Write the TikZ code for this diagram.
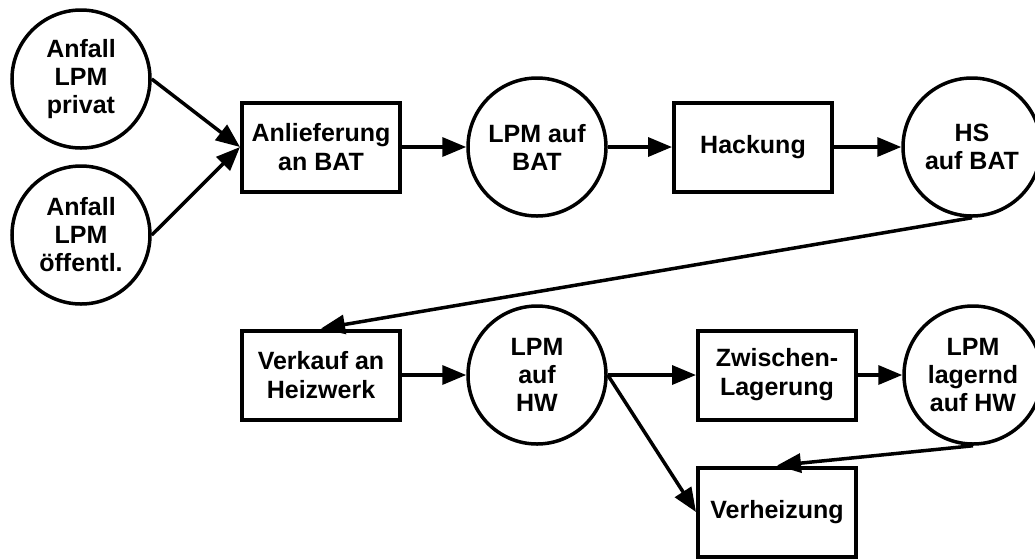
\documentclass[tikz,border=0pt]{standalone}
\usepackage{fontspec}
\setmainfont{Liberation Sans}
\usetikzlibrary{positioning, arrows.meta}

\begin{document}
\begin{tikzpicture}[
    ->, >={Triangle[length=24pt, width=19pt]}, line width=3.5pt, node distance=216pt, on grid,
    stock/.style={circle, draw, line width=3.5pt, minimum size=138pt, inner sep=0pt, align=center,
        font=\fontsize{25}{28}\selectfont\bfseries},
    proc/.style={rectangle, draw, line width=4pt, minimum width=158pt, minimum height=89pt,
        align=center, font=\fontsize{25}{29}\selectfont\bfseries}
]
    \useasboundingbox (0pt,0pt) rectangle (1035pt,-558pt);
    % upper row
    \node[proc] (anlief) at (321pt,-147pt) {Anlieferung\\an BAT};
    \node[stock] (privat) [above left=68pt and 240pt of anlief] {Anfall\\LPM\\privat};
    \node[stock] (oeff) [below left=88pt and 240pt of anlief] {Anfall\\LPM\\öffentl.};
    \node[stock] (lpmbat) [right=of anlief] {LPM auf\\BAT};
    \node[proc] (hack) [right=of lpmbat] {Hackung};
    \node[stock] (hsbat) [right=219pt of hack] {HS\\auf BAT};
    % lower row
    \node[proc] (verkauf) [below=228pt of anlief] {Verkauf an\\Heizwerk};
    \node[stock] (lpmhw) [right=of verkauf] {LPM\\auf\\HW};
    \node[proc] (zwisch) [right=240pt of lpmhw] {Zwischen-\\Lagerung};
    \node[stock] (lagernd) [right=196pt of zwisch] {LPM\\lagernd\\auf HW};
    \node[proc] (verheiz) [below=137pt of zwisch] {Verheizung};

    \draw (privat.east) -- (anlief.west);
    \draw (oeff.east) -- (anlief.west);
    \draw (anlief) -- (lpmbat);
    \draw (lpmbat) -- (hack);
    \draw (hack) -- (hsbat);
    \draw (hsbat.south) -- (verkauf.north);
    \draw (verkauf) -- (lpmhw);
    \draw (lpmhw) -- (zwisch);
    \draw (zwisch) -- (lagernd);
    \draw (lpmhw.east) -- (verheiz.west);
    \draw (lagernd.south) -- (verheiz.north);
\end{tikzpicture}
\end{document}
